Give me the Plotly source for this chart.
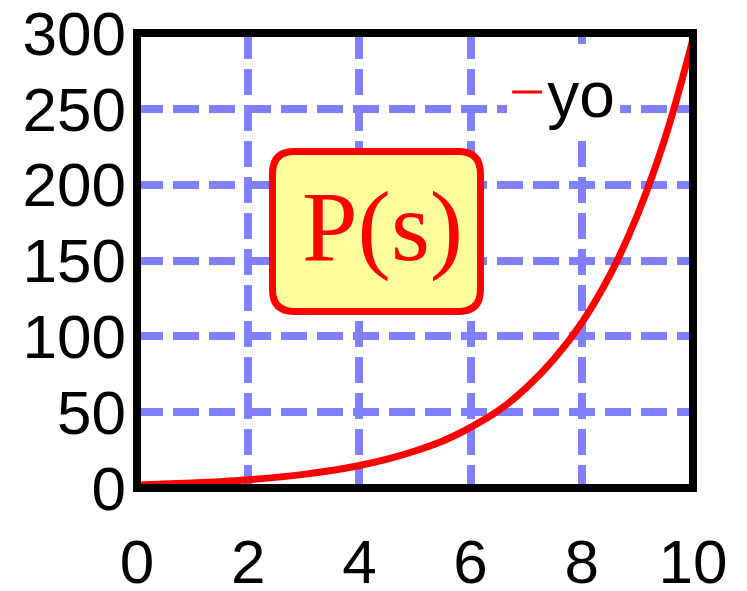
import plotly.graph_objects as go

# curve
s_values = [0, 0.5, 1, 1.5, 2, 2.5, 3, 3.5, 4, 4.5, 5, 5.5, 6, 6.5, 7, 7.5, 8, 8.5, 9, 9.5, 10]
yo_values = [2, 2.6, 3.3, 4.2, 5.4, 7, 9, 11.5, 14.8, 19, 24.4, 31, 40, 51, 66, 85, 109, 140, 180, 231, 296]

x_ticks = [0, 2, 4, 6, 8, 10]
y_ticks = [0, 50, 100, 150, 200, 250, 300]
series_name = "yo"
box_label = "P(s)"

GRID = "rgb(128,128,255)"
TICK_FONT = dict(family="Liberation Sans, Arial, sans-serif", size=62, color="black")

fig = go.Figure()

# the curve itself
fig.add_trace(go.Scatter(
    x=s_values, y=yo_values,
    mode="lines",
    line=dict(color="red", width=7, shape="spline"),
    showlegend=False,
))

# legend entry with thinner line
fig.add_trace(go.Scatter(
    x=[None], y=[None],
    mode="lines",
    line=dict(color="red", width=3),
    name=series_name,
))

fig.update_xaxes(
    range=[0, 10], tickvals=x_ticks, ticktext=[str(v) for v in x_ticks],
    showgrid=True, gridcolor=GRID, gridwidth=8, griddash="26px,10px",
    zeroline=False, showline=False, ticks="", automargin=False,
    tickfont=TICK_FONT, ticklabelstandoff=32, ticklabeloverflow="allow",
)
fig.update_yaxes(
    range=[0, 300], tickvals=y_ticks, ticktext=[str(v) for v in y_ticks],
    showgrid=True, gridcolor=GRID, gridwidth=8, griddash="26px,10px",
    zeroline=False, showline=False, ticks="", automargin=False,
    tickfont=TICK_FONT, ticklabelstandoff=10, ticklabeloverflow="allow",
)

# black frame round the plot area
fig.add_shape(type="rect", xref="paper", yref="paper", x0=0, x1=1, y0=0, y1=1,
              line=dict(color="black", width=8), layer="above")

# rounded yellow box behind the P(s) label
w, h, r = 104, 80, 22
rounded = (f"M{-w + r},{-h} L{w - r},{-h} Q{w},{-h} {w},{-h + r} "
           f"L{w},{h - r} Q{w},{h} {w - r},{h} L{-w + r},{h} "
           f"Q{-w},{h} {-w},{h - r} L{-w},{-h + r} Q{-w},{-h} {-w + r},{-h} Z")
fig.add_shape(type="path", path=rounded,
              xref="paper", yref="paper", xsizemode="pixel", ysizemode="pixel",
              xanchor=0.4307, yanchor=0.5637,
              fillcolor="#fdfd99", line=dict(color="red", width=7), layer="above")

fig.add_annotation(
    x=0.442, y=0.574, xref="paper", yref="paper",
    text=box_label, showarrow=False,
    font=dict(family="Liberation Serif, Times New Roman, serif", size=100, color="red"),
)

# page body adds an 8px margin, so the figure is 8px smaller on each axis
fig.update_layout(
    width=739, height=583,
    margin=dict(l=129, r=54, t=25, b=103),
    paper_bgcolor="white", plot_bgcolor="white",
    legend=dict(
        x=0.869, y=0.976, xanchor="right", yanchor="top",
        bgcolor="white", borderwidth=0,
        font=dict(family="Liberation Sans, Arial, sans-serif", size=64, color="black"),
    ),
)

fig.write_html("out.html")
